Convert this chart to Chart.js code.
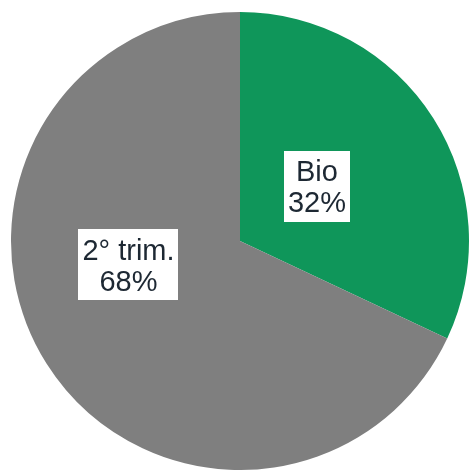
<!DOCTYPE html>
<html>
<head>
<meta charset="utf-8">
<script src="https://cdn.jsdelivr.net/npm/chart.js@4/dist/chart.umd.min.js"></script>
<style>
  html, body { margin: 0; padding: 0; background: #fff; }
  #wrap { width: 470px; height: 470px; }
</style>
</head>
<body>
<div id="wrap"><canvas id="pie"></canvas></div>
<script>
const labels = ["Bio", "2° trim."];
const values = [32, 68];
const colors = ["#0f965a", "#7f7f7f"];

// boxed labels drawn inside each slice (offsets as fraction of radius)
const sliceLabels = {
  id: "sliceLabels",
  afterDatasetsDraw(chart, args, opts) {
    const ctx = chart.ctx;
    const meta = chart.getDatasetMeta(0);
    ctx.save();
    ctx.font = "29px 'Liberation Sans', Arial, sans-serif";
    ctx.textAlign = "center";
    ctx.textBaseline = "alphabetic";
    meta.data.forEach((arc, i) => {
      const r = arc.outerRadius;
      const cx = arc.x + opts.offsets[i][0] * r;
      const cy = arc.y + opts.offsets[i][1] * r;
      const lines = [labels[i], values[i] + "%"];
      const w = Math.max(...lines.map(l => ctx.measureText(l).width)) + 8;
      const h = 71;
      ctx.fillStyle = "#ffffff";
      ctx.fillRect(Math.round(cx - w / 2), Math.round(cy - h / 2), Math.round(w), h);
      ctx.fillStyle = "#1d2833";
      ctx.fillText(lines[0], cx, cy - 5);
      ctx.fillText(lines[1], cx, cy + 26);
    });
    ctx.restore();
  }
};

new Chart(document.getElementById("pie"), {
  type: "pie",
  data: {
    labels: labels,
    datasets: [{
      data: values,
      backgroundColor: colors,
      borderWidth: 0
    }]
  },
  options: {
    responsive: true,
    maintainAspectRatio: false,
    animation: false,
    layout: { padding: { left: 10, right: 0, top: 12, bottom: 0 } },
    plugins: {
      legend: { display: false },
      tooltip: { enabled: false },
      sliceLabels: { offsets: [[0.336, -0.24], [-0.487, 0.103]] }
    }
  },
  plugins: [sliceLabels]
});
</script>
</body>
</html>
